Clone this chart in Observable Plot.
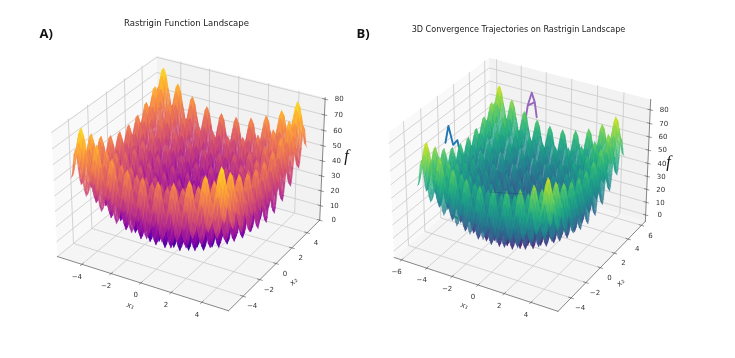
<!DOCTYPE html>
<html><head><meta charset="utf-8">
<script src="https://cdn.jsdelivr.net/npm/d3@7"></script>
<script src="https://cdn.jsdelivr.net/npm/@observablehq/plot@0.6"></script>
<style>html,body{margin:0;background:#fff}#fig{position:relative;width:735px;height:358px;overflow:hidden}svg{display:block;position:absolute;top:0;filter:blur(0.35px)}</style>
</head><body><div id="fig"></div>
<script>
// Surface samples: coordinate grid and the height contributed by each coordinate
const gridHalf = [0,0.125,0.25,0.375,0.5,0.625,0.75,0.875,1,1.125,1.25,1.375,1.5,1.625,1.75,1.875,2,2.125,2.25,2.375,2.5,2.625,2.75,2.875,3,3.125,3.25,3.375,3.5,3.625,3.75,3.875,4,4.125,4.25,4.375,4.5,4.625,4.75,4.875,5];
const profileHalf = [0,2.9,10.1,17.2,20.3,17.5,10.6,3.7,1,4.2,11.6,19,22.3,19.7,13.1,6.4,4,7.4,15.1,22.7,26.3,24,17.6,11.2,9,12.7,20.6,28.5,32.3,30.2,24.1,17.9,16,19.9,28.1,36.2,40.3,38.5,32.6,26.7,25];
// Axis ticks
const ticksA = [-4,-2,0,2,4];
const ticksBx = [-6,-4,-2,0,2,4];
const ticksBy = [-4,-2,0,2,4,6];
const ticksZ = [0,10,20,30,40,50,60,70,80];
// Trajectories on panel B [x,y,z]
const trajBlue = [[-5,-1.57,65],[-5,-1.17,75.5],[-5,-0.65,59],[-5,-0.12,60],[-5,0.14,50],[-4.5,0.4,36]];
const trajPurple = [[-2.17,5.6,58],[-2.33,5.6,69],[-2.57,5.6,75.5],[-2.89,5.6,65],[-2.33,5.6,69],[-2.89,5.6,65],[-3.05,5.6,54.7]];
const trajGreen = [[-3.4,-3.3,24],[-3.1,-3.2,22]];
const trajFaint = [[-4.43,3.24,5],[-2.25,4.16,5]];

const gridX = [...gridHalf.slice(1).reverse().map(d=>-d),...gridHalf];
const heightProfile = [...profileHalf.slice(1).reverse(),...profileHalf];

const W0 = 355, W1 = 390, H = 358;
const boxA = {x:[-5.7,5.7], y:[-5.7,5.7], z:[0,81]};
const boxB = {x:[-6.6,6.0], y:[-5.7,6.6], z:[-5,87.6]};
// pixel anchors of the box corners, used to set the x / y scale domains
const anchorsA = [[0,0,0,57,256],[1,0,0,228,311],[1,1,0,319,218],[0,0,1,51,132],[0,1,1,156,55],[1,1,1,325,97]];
const anchorsB = [[0,0,0,49,257],[1,0,0,213,311],[1,1,0,300,221],[0,0,1,43,131],[0,1,1,143,58],[1,1,1,305,99]];

const elev = 30*Math.PI/180, azim = -60*Math.PI/180;
const A = [1.1429,1.1429,0.8571];
const n = [Math.cos(elev)*Math.cos(azim),Math.cos(elev)*Math.sin(azim),Math.sin(elev)];
const eye = [A[0]/2+10*n[0],A[1]/2+10*n[1],A[2]/2+10*n[2]];
const cross=(a,b)=>[a[1]*b[2]-a[2]*b[1],a[2]*b[0]-a[0]*b[2],a[0]*b[1]-a[1]*b[0]];
const dot=(a,b)=>a[0]*b[0]+a[1]*b[1]+a[2]*b[2];
let uu=cross([0,0,1],n); const ul=Math.hypot(...uu); uu=uu.map(d=>d/ul);
const vv=cross(n,uu);
function projUnit(a,b,c){const p=[a*A[0]-eye[0],b*A[1]-eye[1],c*A[2]-eye[2]];const w=-dot(n,p);return {u:dot(uu,p)/w,v:dot(vv,p)/w,w};}
const fr=(v,d)=>(v-d[0])/(d[1]-d[0]);
const project=(box,x,y,z)=>projUnit(fr(x,box.x),fr(y,box.y),fr(z,box.z));
function fit(pairs){const mx=d3.mean(pairs,d=>d[0]),my=d3.mean(pairs,d=>d[1]);
  const a=d3.sum(pairs,d=>(d[0]-mx)*(d[1]-my))/d3.sum(pairs,d=>(d[0]-mx)**2);return [a,my-a*mx];}
function panel(cfg){
  const {box,anchors,width,scheme,alpha,xt,yt,title,titleSize,tag,tagX,titleX,titleY,fX,fY,x1,x2,trajs,faint}=cfg;
  const pu=anchors.map(d=>projUnit(d[0],d[1],d[2]));
  const fx=fit(pu.map((p,i)=>[p.u,anchors[i][3]])), fy=fit(pu.map((p,i)=>[p.v,anchors[i][4]]));
  const P=(x,y,z)=>project(box,x,y,z);
  const [x0,x9]=box.x,[y0,y9]=box.y,[z0,z9]=box.z;
  const poly=(id,pts,extra={})=>pts.map(q=>({id,...P(...q),...extra}));
  const paneX=poly("px",[[x0,y0,z0],[x0,y9,z0],[x0,y9,z9],[x0,y0,z9],[x0,y0,z0]]);
  const paneY=poly("py",[[x0,y9,z0],[x9,y9,z0],[x9,y9,z9],[x0,y9,z9],[x0,y9,z0]]);
  const paneZ=poly("pz",[[x0,y0,z0],[x9,y0,z0],[x9,y9,z0],[x0,y9,z0],[x0,y0,z0]]);
  const grid=[];
  xt.forEach(t=>{grid.push(...poly("gx"+t,[[t,y0,z0],[t,y9,z0],[t,y9,z9]]));});
  yt.forEach(t=>{grid.push(...poly("gy"+t,[[x9,t,z0],[x0,t,z0],[x0,t,z9]]));});
  ticksZ.forEach(t=>{grid.push(...poly("gz"+t,[[x0,y0,t],[x0,y9,t],[x9,y9,t]]));});
  const axes=[...poly("ax",[[x0,y0,z0],[x9,y0,z0]]),...poly("ay",[[x9,y0,z0],[x9,y9,z0]]),...poly("az",[[x9,y9,z0],[x9,y9,z9]])];
  const dX=(x9-x0)*0.014,dY=(y9-y0)*0.014;
  const tk=[];
  xt.forEach(t=>tk.push(...poly("tx"+t,[[t,y0-dY,z0],[t,y0+dY,z0]])));
  yt.forEach(t=>tk.push(...poly("ty"+t,[[x9+dX,t,z0],[x9-dX,t,z0]])));
  ticksZ.forEach(t=>tk.push(...poly("tz"+t,[[x9+dX,y9,t],[x9-dX,y9,t]])));
  // surface quads, back to front
  const quads=[];
  const nG=gridX.length;
  for(let i=0;i<nG-1;i++)for(let j=0;j<nG-1;j++){
    const c=[[i,j],[i+1,j],[i+1,j+1],[i,j+1],[i,j]].map(([a,b])=>[gridX[a],gridX[b],heightProfile[a]+heightProfile[b]]);
    const pts=c.map(q=>P(...q));
    quads.push({depth:d3.mean(pts.slice(0,4),d=>d.w),f:d3.mean(c.slice(0,4),d=>d[2]),pts,id:i+"_"+j});
  }
  quads.sort((a,b)=>b.depth-a.depth);
  const rows=quads.flatMap(q=>q.pts.map(p=>({id:q.id,u:p.u,v:p.v,f:q.f})));
  const ff='"DejaVu Sans"';
  const lbl=(ts,f)=>ts.map(t=>({...f(t),t:String(t).replace("-","\u2212")}));
  const marks=[
    Plot.line(paneX,{x:"u",y:"v",z:"id",fill:"#f9f9f9",stroke:"none"}),
    Plot.line(paneY,{x:"u",y:"v",z:"id",fill:"#f2f2f2",stroke:"none"}),
    Plot.line(paneZ,{x:"u",y:"v",z:"id",fill:"#f5f5f5",stroke:"none"}),
    Plot.line(grid,{x:"u",y:"v",z:"id",stroke:"#c9c9c9",strokeWidth:0.8}),
    Plot.line(axes,{x:"u",y:"v",z:"id",stroke:"#555",strokeWidth:0.7}),
    Plot.line(tk,{x:"u",y:"v",z:"id",stroke:"#555",strokeWidth:0.6})
  ];
  (trajs||[]).forEach(([pts,c])=>marks.push(Plot.line(pts.map(q=>P(...q)),{x:"u",y:"v",stroke:c,strokeWidth:1.9})));
  marks.push(Plot.line(rows,{x:"u",y:"v",z:"id",fill:"f",stroke:"f",strokeWidth:0.15,fillOpacity:alpha,strokeOpacity:alpha}));
  if(faint) marks.push(Plot.line(faint.map(q=>P(...q)),{x:"u",y:"v",stroke:"#1f3f6f",strokeOpacity:0.45,strokeWidth:0.8}));
  const tx={fontFamily:ff,fontSize:7,fill:"#333"};
  marks.push(
    Plot.text(lbl(xt,t=>P(t,y0,z0)),{x:"u",y:"v",text:"t",dx:-5,dy:12,...tx}),
    Plot.text(lbl(yt,t=>P(x9,t,z0)),{x:"u",y:"v",text:"t",dx:9,dy:10,...tx}),
    Plot.text(lbl(ticksZ,t=>P(x9,y9,t)),{x:"u",y:"v",text:"t",dx:14,dy:0,...tx}),
    Plot.text([title],{frameAnchor:"top-left",dx:titleX,dy:titleY,textAnchor:"middle",lineAnchor:"middle",fontFamily:ff,fontSize:titleSize,fill:"#222"}),
    Plot.text([tag],{frameAnchor:"top-left",dx:tagX,dy:33,textAnchor:"start",lineAnchor:"middle",fontFamily:'"Open Sans"',fontWeight:700,fontSize:13,fill:"#111"}),
    Plot.text(["f"],{frameAnchor:"top-left",dx:fX,dy:fY,textAnchor:"middle",lineAnchor:"middle",fontFamily:'"Liberation Serif"',fontStyle:"italic",fontSize:16,fill:"#111"}),
    Plot.text(["x\u2081"],{frameAnchor:"top-left",dx:x1[0],dy:x1[1],rotate:18,textAnchor:"middle",lineAnchor:"middle",fontFamily:ff,fontStyle:"italic",fontSize:7.5,fill:"#333"}),
    Plot.text(["x\u2082"],{frameAnchor:"top-left",dx:x2[0],dy:x2[1],rotate:-45,textAnchor:"middle",lineAnchor:"middle",fontFamily:ff,fontStyle:"italic",fontSize:7.5,fill:"#333"})
  );
  return Plot.plot({width,height:H,margin:0,
    x:{type:"linear",domain:[(0-fx[1])/fx[0],(width-fx[1])/fx[0]],range:[0,width],axis:null},
    y:{type:"linear",domain:[(H-fy[1])/fy[0],(0-fy[1])/fy[0]],range:[H,0],axis:null},
    color:{type:"linear",scheme,domain:[0,85]},
    style:{background:"transparent"},
    marks});
}
const fig=document.getElementById("fig");
const a=panel({box:boxA,anchors:anchorsA,width:W0,scheme:"plasma",alpha:0.92,xt:ticksA,yt:ticksA,title:"Rastrigin Function Landscape",titleSize:8.5,tag:"A)",tagX:39,titleX:186,titleY:23,fX:346,fY:155,x1:[130,305],x2:[293,281]});
a.style.left="0";
const b=panel({box:boxB,anchors:anchorsB,width:W1,scheme:"viridis",alpha:0.8,xt:ticksBx,yt:ticksBy,title:"3D Convergence Trajectories on Rastrigin Landscape",titleSize:8.1,tag:"B)",tagX:11,titleX:173,titleY:29,fX:323,fY:161,x1:[119,305],x2:[275,282],trajs:[[trajBlue,"#1f77b4"],[trajPurple,"#9467bd"],[trajGreen,"#2ca02c"]],faint:trajFaint});
b.style.left="345px";
fig.append(a,b);
</script></body></html>
